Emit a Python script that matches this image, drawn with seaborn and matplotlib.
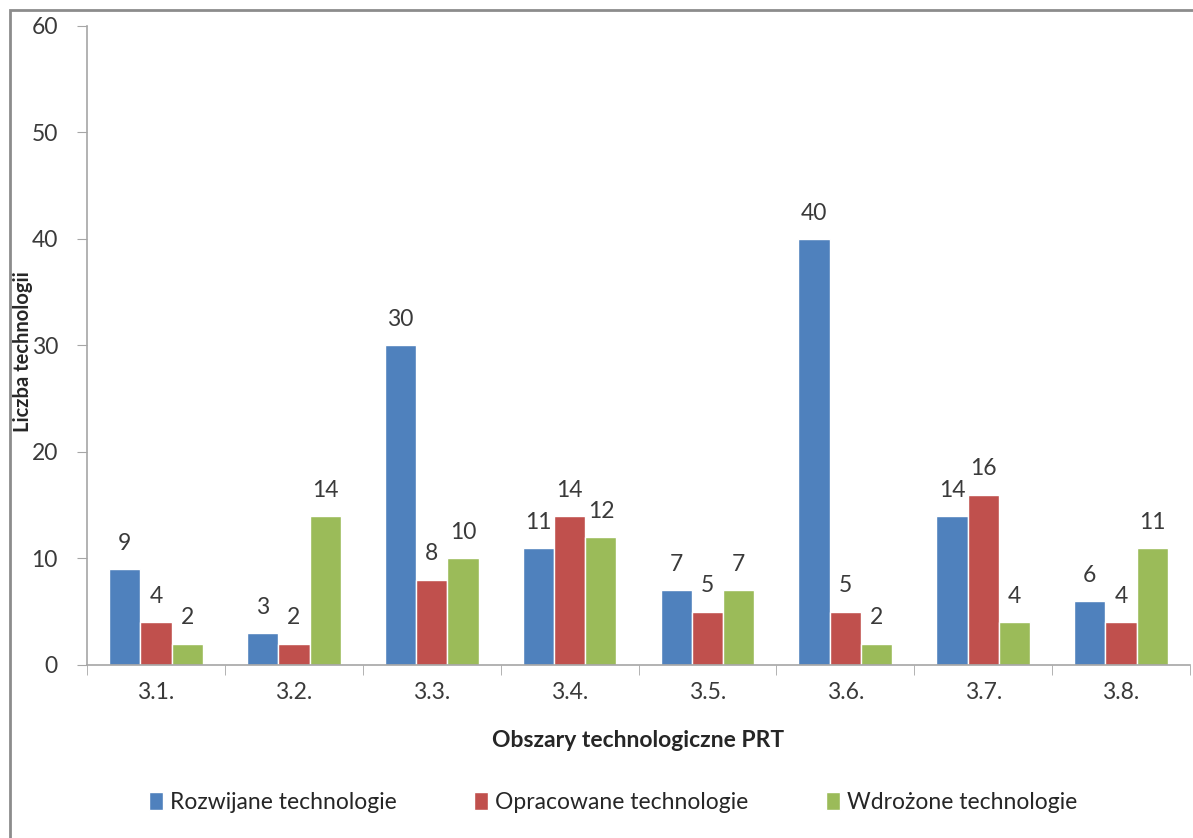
import numpy as np
import pandas as pd
import matplotlib
matplotlib.use("Agg")
import matplotlib.pyplot as plt
from matplotlib.patches import Rectangle
import seaborn as sns

# chart data
obszary = ["3.1.", "3.2.", "3.3.", "3.4.", "3.5.", "3.6.", "3.7.", "3.8."]
serie = ["Rozwijane technologie", "Opracowane technologie", "Wdrożone technologie"]
rozwijane = [9, 3, 30, 11, 7, 40, 14, 6]
opracowane = [4, 2, 8, 14, 5, 5, 16, 4]
wdrozone = [2, 14, 10, 12, 7, 2, 4, 11]
kolory = ["#4F81BD", "#C0504D", "#9BBB59"]

df = pd.DataFrame({
    "obszar": obszary * 3,
    "seria": [serie[0]] * 8 + [serie[1]] * 8 + [serie[2]] * 8,
    "liczba": rozwijane + opracowane + wdrozone,
})

sns.set_style("white")
plt.rcParams["font.family"] = ["Lato", "DejaVu Sans"]

fig = plt.figure(figsize=(11.93, 8.38), dpi=100)
ax = fig.add_axes([0.073, 0.2065, 0.9245, 0.7625])

sns.barplot(data=df, x="obszar", y="liczba", hue="seria", palette=kolory,
            saturation=1, width=0.68, ax=ax, legend=True)

for cont in ax.containers:
    ax.bar_label(cont, padding=11, fontsize=16.5, color="#3A3A3A")

ax.set_ylim(0, 60)
ax.set_yticks(np.arange(0, 61, 10))
ax.set_xlim(-0.5, 7.5)
ax.set_xticks(np.arange(-0.5, 8, 1), minor=True)
ax.tick_params(axis="x", which="major", length=0, labelsize=16.5,
               labelcolor="#3A3A3A", pad=12)
ax.tick_params(axis="x", which="minor", length=7, color="#A6A6A6",
               direction="out", bottom=True)
ax.tick_params(axis="y", length=7, color="#A6A6A6", direction="out",
               labelsize=16.5, labelcolor="#3A3A3A", left=True, pad=14)

for s in ["top", "right"]:
    ax.spines[s].set_visible(False)
for s in ["left", "bottom"]:
    ax.spines[s].set_color("#A6A6A6")
    ax.spines[s].set_linewidth(1.2)

ax.set_xlabel("Obszary technologiczne PRT", fontsize=16.5, fontweight="bold",
              labelpad=20)
ax.set_ylabel("")
fig.text(0.0195, 0.58, "Liczba technologii", rotation=90, fontsize=14.5,
         fontweight="bold", ha="center", va="center")

ax.legend(loc="center", bbox_to_anchor=(0.477, -0.215), ncol=3, frameon=False,
          fontsize=16.5, handlelength=0.6, handleheight=0.8, handletextpad=0.3,
          columnspacing=3.4)

# outer frame of the chart
fig.patches.append(Rectangle((10 / 1193, -0.1), 1.2, 0.1 + 828 / 838,
                             transform=fig.transFigure, fill=False,
                             edgecolor="#8C8C8C", linewidth=2))

fig.savefig("out.png", dpi=100)
